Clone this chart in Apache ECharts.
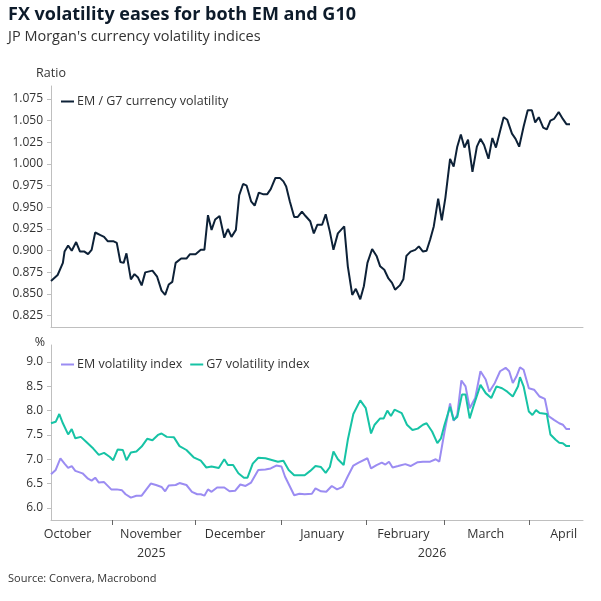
<!DOCTYPE html>
<html>
<head>
<meta charset="utf-8">
<script src="https://cdn.jsdelivr.net/npm/echarts@6/dist/echarts.min.js"></script>
<style>html,body{margin:0;padding:0;background:#fff}#chart{width:601px;height:601px}</style>
</head>
<body>
<div id="chart"></div>
<script>
// x values are days since 1 Oct 2025
const ratioDays = [8.8,11.2,13.1,13.7,15.0,16.3,17.9,19.3,20.9,22.2,23.5,24.8,26.7,28.0,29.3,31.3,32.6,33.9,35.1,36.1,37.7,39.0,40.3,41.6,42.9,45.5,47.2,48.8,50.1,51.4,52.7,53.9,55.9,57.8,59.1,61.1,63.0,64.3,65.6,66.9,68.2,69.8,71.5,72.8,74.1,75.7,76.9,78.3,79.6,81.2,82.5,84.0,85.7,87.0,88.3,90.0,91.6,92.9,93.9,95.2,96.8,98.1,99.6,100.9,102.6,103.9,105.2,106.9,108.2,109.7,111.0,112.6,114.9,116.2,117.8,119.1,120.7,122.0,123.3,125.0,126.6,127.9,129.4,130.9,132.2,133.3,135.0,136.3,137.4,138.9,140.6,141.9,143.4,144.7,146.0,147.3,148.9,150.2,151.5,153.2,154.5,155.8,157.1,158.4,159.7,161.3,162.9,164.2,165.5,167.1,168.5,169.8,171.3,172.6,173.9,175.6,176.9,178.2,179.8,181.3,182.8,184.0,185.3,186.9,188.2,189.5,190.8,192.5,194.0,195.3,196.6];
const ratioVals = [0.865,0.872,0.886,0.899,0.906,0.900,0.910,0.899,0.899,0.896,0.901,0.921,0.918,0.916,0.911,0.911,0.909,0.887,0.886,0.897,0.867,0.873,0.869,0.860,0.875,0.877,0.870,0.854,0.849,0.861,0.864,0.886,0.891,0.891,0.896,0.896,0.901,0.901,0.941,0.924,0.936,0.940,0.915,0.925,0.916,0.924,0.964,0.977,0.975,0.957,0.952,0.967,0.965,0.965,0.971,0.984,0.984,0.980,0.974,0.957,0.939,0.939,0.945,0.940,0.934,0.920,0.930,0.930,0.942,0.922,0.901,0.920,0.928,0.882,0.849,0.856,0.844,0.859,0.886,0.902,0.894,0.882,0.878,0.868,0.863,0.855,0.860,0.867,0.894,0.899,0.901,0.905,0.899,0.900,0.913,0.928,0.960,0.935,0.961,1.006,0.997,1.020,1.034,1.019,1.028,0.991,1.020,1.029,1.022,1.006,1.030,1.019,1.038,1.054,1.051,1.035,1.029,1.020,1.043,1.062,1.062,1.048,1.054,1.042,1.040,1.050,1.052,1.060,1.052,1.046,1.046];

const emDays = [8.8,10.5,12.2,13.7,15.0,16.3,17.6,20.2,22.2,23.5,24.8,26.1,28.0,30.6,32.6,34.5,35.8,37.7,39.7,41.6,42.9,44.9,46.8,48.8,50.1,51.4,53.9,55.3,57.8,59.8,61.7,63.0,64.3,65.6,66.9,68.9,71.5,73.4,75.4,77.3,79.2,81.2,83.8,86.4,88.3,90.3,92.2,93.5,96.8,98.7,100.6,103.2,104.5,106.5,108.4,110.4,112.3,114.3,116.2,118.2,120.1,123.3,124.6,126.6,128.5,129.8,131.1,132.4,134.4,137.0,138.9,141.5,143.4,146.0,148.0,149.3,151.2,153.2,154.5,155.8,157.3,158.8,160.3,162.3,164.2,166.1,167.4,169.4,171.3,173.3,174.6,175.9,177.2,178.5,179.8,181.7,183.6,185.6,187.5,188.8,190.8,192.7,194.0,195.3,196.6];
const emVals = [6.69,6.78,7.02,6.91,6.82,6.86,6.76,6.71,6.60,6.56,6.62,6.52,6.53,6.38,6.38,6.36,6.28,6.21,6.25,6.25,6.35,6.50,6.47,6.43,6.34,6.46,6.47,6.51,6.47,6.33,6.28,6.28,6.25,6.38,6.33,6.42,6.42,6.34,6.35,6.48,6.45,6.52,6.78,6.79,6.81,6.87,6.85,6.64,6.26,6.29,6.28,6.29,6.40,6.34,6.33,6.45,6.38,6.43,6.65,6.87,6.93,7.02,6.81,6.88,6.93,6.89,6.95,6.83,6.86,6.90,6.86,6.94,6.95,6.95,7.00,6.95,7.57,8.15,7.79,7.91,8.62,8.50,8.05,8.26,8.81,8.64,8.39,8.57,8.81,8.88,8.81,8.57,8.70,8.89,8.84,8.46,8.43,8.29,8.24,7.89,7.81,7.74,7.71,7.62,7.62];

const g7Days = [8.8,10.5,11.8,13.1,15.0,16.3,17.6,19.6,21.5,24.1,26.1,28.0,30.0,31.3,32.9,34.8,36.1,37.7,39.7,41.6,43.6,45.5,47.5,48.8,50.7,53.3,55.3,57.8,60.4,63.0,65.0,66.9,69.5,71.5,72.8,74.7,76.6,78.6,79.9,81.8,83.8,86.4,89.0,90.9,92.9,94.8,96.8,98.7,100.6,102.6,104.5,106.5,108.2,109.7,111.0,112.6,114.7,116.2,118.2,120.7,122.7,124.6,125.9,127.9,129.2,130.5,131.8,133.1,135.7,137.6,139.6,141.5,143.4,144.7,146.7,148.6,149.9,151.2,153.2,154.5,155.8,157.5,158.8,160.3,161.6,164.2,166.1,168.1,170.0,172.0,173.9,175.9,177.8,178.5,179.8,181.7,183.0,184.3,185.6,188.2,189.5,191.4,192.7,194.0,195.3,196.6];
const g7Vals = [7.74,7.77,7.93,7.74,7.51,7.62,7.43,7.46,7.36,7.22,7.09,7.13,7.05,6.98,7.20,7.19,6.98,7.14,7.16,7.26,7.42,7.39,7.50,7.53,7.46,7.45,7.27,7.19,7.04,6.97,6.83,6.85,6.82,7.00,6.88,6.88,6.71,6.62,6.62,6.91,7.03,7.02,6.98,6.95,6.97,6.78,6.67,6.67,6.67,6.76,6.86,6.84,6.72,6.84,7.16,7.00,6.88,7.40,7.93,8.21,8.05,7.53,7.71,7.84,7.84,8.00,7.89,8.02,7.95,7.71,7.60,7.63,7.71,7.74,7.57,7.33,7.43,7.71,8.08,7.81,7.87,8.33,8.33,7.84,8.08,8.53,8.36,8.26,8.50,8.46,8.39,8.29,8.50,8.69,8.50,7.98,7.91,8.01,7.95,7.93,7.51,7.40,7.34,7.33,7.27,7.27];

const monthStarts = [31, 61, 92, 123, 151, 182];
const monthLabelDays = [14.8, 44.9, 75.4, 106.9, 136.3, 166.1, 194.3];
const monthNames = ['October', 'November', 'December', 'January', 'February', 'March', 'April'];
const yearLabelDays = [45.1, 146.7];
const yearNames = ['2025', '2026'];
const ratioTicks = [0.825, 0.85, 0.875, 0.9, 0.925, 0.95, 0.975, 1.0, 1.025, 1.05, 1.075];
const volTicks = [6.0, 6.5, 7.0, 7.5, 8.0, 8.5, 9.0];

const FONT = 'Open Sans';
const AXIS_GREY = '#bfbfbf';
const TXT = '#333';
const zip = (a, b) => a.map((d, i) => [d, b[i]]);
const pick = (keys, names) => v => {
  const i = keys.findIndex(k => Math.abs(k - v) < 0.01);
  return i < 0 ? '' : names[i];
};

const chart = echarts.init(document.getElementById('chart'));
const xBase = {
  type: 'value', min: 8.8, max: 201.3, position: 'bottom',
  splitLine: { show: false },
  axisLine: { show: true, onZero: false, lineStyle: { color: AXIS_GREY } }
};
const yBase = {
  type: 'value',
  splitLine: { show: false },
  axisLine: { show: true, lineStyle: { color: AXIS_GREY } },
  axisTick: { show: true, length: 4, lineStyle: { color: AXIS_GREY } },
  axisLabel: { color: TXT, fontFamily: FONT, fontSize: 12, margin: 8 }
};

chart.setOption({
  backgroundColor: '#fff',
  animation: false,
  textStyle: { fontFamily: FONT },
  title: {
    text: 'FX volatility eases for both EM and G10',
    subtext: "JP Morgan's currency volatility indices",
    left: 3, top: 1, itemGap: 5,
    textStyle: { fontFamily: FONT, fontSize: 18, fontWeight: 'bold', color: '#0d1b2a' },
    subtextStyle: { fontFamily: FONT, fontSize: 14.5, color: TXT }
  },
  graphic: [{
    type: 'text', left: 8, top: 573,
    style: { text: 'Source: Convera, Macrobond', fontFamily: FONT, fontSize: 11, fill: TXT }
  }],
  legend: [
    {
      data: ['EM / G7 currency volatility'], left: 56, top: 90, icon: 'rect',
      itemWidth: 13, itemHeight: 2, itemGap: 4,
      textStyle: { fontFamily: FONT, fontSize: 12.5, color: TXT, padding: [0, 0, 0, -2] }
    },
    {
      data: ['EM volatility index', 'G7 volatility index'], left: 56, top: 353, icon: 'rect',
      itemWidth: 13, itemHeight: 2, itemGap: 8,
      textStyle: { fontFamily: FONT, fontSize: 12.5, color: TXT, padding: [0, 0, 0, -2] }
    }
  ],
  grid: [
    { left: 51, right: 18, top: 86, height: 241 },
    { left: 51, right: 18, top: 345, height: 175 }
  ],
  xAxis: [
    Object.assign({}, xBase, { gridIndex: 0, axisTick: { show: false }, axisLabel: { show: false } }),
    Object.assign({}, xBase, {
      gridIndex: 1,
      axisTick: { show: true, length: 5, customValues: monthStarts, lineStyle: { color: '#666' } },
      axisLabel: { customValues: monthLabelDays, formatter: pick(monthLabelDays, monthNames),
        color: TXT, fontFamily: FONT, fontSize: 12.5, margin: 8 }
    }),
    Object.assign({}, xBase, {
      gridIndex: 1, offset: 19,
      axisLine: { show: false }, axisTick: { show: false },
      axisLabel: { customValues: yearLabelDays, formatter: pick(yearLabelDays, yearNames),
        color: TXT, fontFamily: FONT, fontSize: 12.5, margin: 8 }
    })
  ],
  yAxis: [
    Object.assign({}, yBase, {
      gridIndex: 0, min: 0.812, max: 1.09,
      name: 'Ratio', nameLocation: 'end', nameGap: 6,
      nameTextStyle: { color: TXT, fontFamily: FONT, fontSize: 12.5, align: 'center' },
      axisTick: Object.assign({}, yBase.axisTick, { customValues: ratioTicks }),
      axisLabel: Object.assign({}, yBase.axisLabel, { customValues: ratioTicks, formatter: v => v.toFixed(3) })
    }),
    Object.assign({}, yBase, {
      gridIndex: 1, min: 5.75, max: 9.35,
      name: '%', nameLocation: 'end', nameGap: -4,
      nameTextStyle: { color: TXT, fontFamily: FONT, fontSize: 12.5, align: 'right', padding: [0, 6, 0, 0] },
      axisTick: Object.assign({}, yBase.axisTick, { customValues: volTicks }),
      axisLabel: Object.assign({}, yBase.axisLabel, { customValues: volTicks, formatter: v => v.toFixed(1) })
    })
  ],
  series: [
    { name: 'EM / G7 currency volatility', type: 'line', xAxisIndex: 0, yAxisIndex: 0,
      data: zip(ratioDays, ratioVals), showSymbol: false, color: '#0d2137',
      lineStyle: { width: 2, color: '#0d2137' } },
    { name: 'EM volatility index', type: 'line', xAxisIndex: 1, yAxisIndex: 1,
      data: zip(emDays, emVals), showSymbol: false, color: '#9b8cf2',
      lineStyle: { width: 2, color: '#9b8cf2' } },
    { name: 'G7 volatility index', type: 'line', xAxisIndex: 1, yAxisIndex: 1,
      data: zip(g7Days, g7Vals), showSymbol: false, color: '#16c3a5',
      lineStyle: { width: 2, color: '#16c3a5' } }
  ]
});
</script>
</body>
</html>
